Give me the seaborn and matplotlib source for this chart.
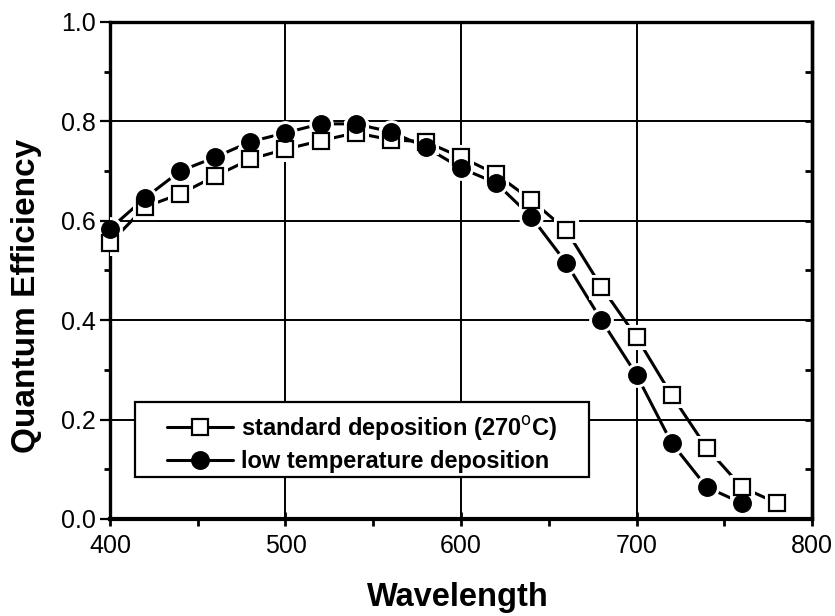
import matplotlib
matplotlib.use("Agg")
import matplotlib.pyplot as plt
import seaborn as sns
import numpy as np
import pandas as pd
from matplotlib.ticker import MultipleLocator
from matplotlib.patches import Rectangle

wavelength_std = [400, 420, 440, 460, 480, 500, 520, 540, 560, 580, 600, 620, 640, 660, 680, 700, 720, 740, 760, 780]
qe_std = [0.555, 0.628, 0.654, 0.690, 0.724, 0.744, 0.761, 0.777, 0.763, 0.759, 0.728, 0.694, 0.642, 0.581, 0.467, 0.366, 0.249, 0.143, 0.064, 0.032]

wavelength_low = [400, 420, 440, 460, 480, 500, 520, 540, 560, 580, 600, 620, 640, 660, 680, 700, 720, 740, 760]
qe_low = [0.584, 0.646, 0.700, 0.728, 0.759, 0.777, 0.795, 0.795, 0.779, 0.748, 0.706, 0.676, 0.608, 0.515, 0.400, 0.290, 0.153, 0.064, 0.032]

label_std = "standard deposition (270$^{\\mathrm{o}}$C)"
label_low = "low temperature deposition"

x_ticks = [400, 500, 600, 700, 800]
y_ticks = [0.0, 0.2, 0.4, 0.6, 0.8, 1.0]
x_label = "Wavelength"
y_label = "Quantum Efficiency"

sns.set_theme(style="white")
plt.rcParams['font.family'] = ['Liberation Sans', 'DejaVu Sans']
for k in ['text.color', 'axes.labelcolor', 'xtick.color', 'ytick.color', 'axes.edgecolor']:
    plt.rcParams[k] = 'black'

fig = plt.figure(figsize=(8.35, 6.16), dpi=100)
ax = fig.add_axes([0.1317, 0.1575, 0.8408, 0.8068])

# grid lines
for xv in [500, 600, 700]:
    ax.axvline(xv, color='black', lw=1.4, zorder=1)
for yv in [0.2, 0.4, 0.6, 0.8]:
    ax.axhline(yv, color='black', lw=1.4, zorder=1)

df_std = pd.DataFrame({"x": wavelength_std, "y": qe_std})
df_low = pd.DataFrame({"x": wavelength_low, "y": qe_low})

ms = 12
sns.lineplot(data=df_std, x="x", y="y", ax=ax, color='black', lw=2.2,
             marker='s', markersize=ms, markerfacecolor='white', markeredgecolor='black',
             markeredgewidth=1.6, label=label_std, zorder=3)
sns.lineplot(data=df_low, x="x", y="y", ax=ax, color='black', lw=2.2,
             marker='o', markersize=ms, markerfacecolor='black', markeredgecolor='black',
             markeredgewidth=1.6, label=label_low, zorder=3)
# white halos so line segments stop short of markers, then markers on top
sns.lineplot(data=df_std, x="x", y="y", ax=ax, linestyle='none', marker='s', markersize=ms + 5,
             markerfacecolor='white', markeredgecolor='white', zorder=4, legend=False)
sns.lineplot(data=df_low, x="x", y="y", ax=ax, linestyle='none', marker='o', markersize=ms + 5,
             markerfacecolor='white', markeredgecolor='white', zorder=4, legend=False)
sns.lineplot(data=df_std, x="x", y="y", ax=ax, linestyle='none', marker='s', markersize=ms,
             markerfacecolor='white', markeredgecolor='black', markeredgewidth=1.6, zorder=5,
             legend=False, clip_on=False)
sns.lineplot(data=df_low, x="x", y="y", ax=ax, linestyle='none', marker='o', markersize=ms,
             markerfacecolor='black', markeredgecolor='black', markeredgewidth=1.6, zorder=6,
             legend=False, clip_on=False)

ax.set_xlim(400, 800)
ax.set_ylim(0.0, 1.0)
ax.set_xticks(x_ticks)
ax.set_yticks(y_ticks)
ax.set_xticklabels([str(v) for v in x_ticks])
ax.set_yticklabels([f"{v:.1f}" for v in y_ticks])
ax.xaxis.set_minor_locator(MultipleLocator(50))
ax.yaxis.set_minor_locator(MultipleLocator(0.1))

ax.tick_params(axis='x', which='major', direction='inout', length=10, width=2, labelsize=18, pad=6, bottom=True)
ax.tick_params(axis='x', which='minor', direction='out', length=5, width=2, bottom=True)
ax.tick_params(axis='y', which='major', direction='out', length=7, width=1.6, labelsize=18, pad=3, left=True)
ax.tick_params(axis='y', which='minor', direction='out', length=4, width=2, left=True)

sec = ax.secondary_yaxis('right')
sec.set_yticks([])
sec.yaxis.set_minor_locator(MultipleLocator(0.1))
sec.tick_params(which='minor', direction='in', length=5, width=2)
sec.spines['right'].set_linewidth(2.4)

for s in ax.spines.values():
    s.set_color('black')
    s.set_linewidth(2.4)
ax.spines['bottom'].set_linewidth(3)

ax.set_xlabel(x_label, fontsize=23.5, fontweight='bold')
ax.set_ylabel(y_label, fontsize=24, fontweight='bold')
ax.xaxis.set_label_coords(0.496, -0.127)
ax.yaxis.set_label_coords(-0.097, 0.449)

# legend box (frame drawn separately to match the wide side margins)
box = Rectangle((0.0356, 0.0845), 0.682 - 0.0356, 0.2354 - 0.0845, transform=ax.transAxes,
                facecolor='white', edgecolor='black', lw=1.6, zorder=9)
ax.add_patch(box)
leg = ax.legend(loc='center', bbox_to_anchor=(0.359, 0.152), frameon=False,
                handlelength=2.8, handletextpad=0.35, borderpad=0.2, labelspacing=0.3,
                prop={'weight': 'bold', 'size': 17})
leg.set_zorder(10)

fig.savefig("out.png", dpi=100)
